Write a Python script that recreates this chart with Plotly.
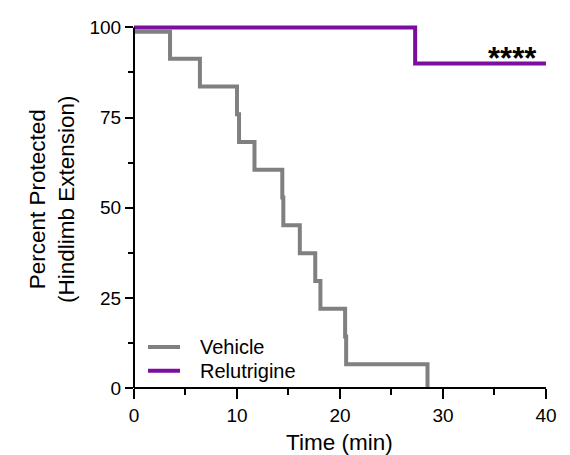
import plotly.graph_objects as go

# Kaplan-Meier style protection curves (time in minutes, percent protected)
vehicle_time = [0, 3.5, 6.4, 10.0, 10.2, 11.7, 14.4, 14.5, 16.1, 17.6, 18.1, 20.5, 20.6, 28.5]
vehicle_pct = [98.8, 91.3, 83.6, 75.9, 68.2, 60.5, 52.8, 45.1, 37.4, 29.7, 22.0, 14.3, 6.6, 0]

relutrigine_time = [0, 27.3, 40]
relutrigine_pct = [100, 90, 90]

x_ticks = [0, 10, 20, 30, 40]
y_ticks = [0, 25, 50, 75, 100]

series_names = ["Vehicle", "Relutrigine"]
series_colors = ["#808080", "#7B0DA0"]
significance = "****"

FONT = "Arial, Liberation Sans, sans-serif"

fig = go.Figure()
fig.add_trace(go.Scatter(x=vehicle_time, y=vehicle_pct, mode="lines",
                         line=dict(shape="hv", color=series_colors[0], width=4),
                         name=series_names[0], showlegend=False))
fig.add_trace(go.Scatter(x=relutrigine_time, y=relutrigine_pct, mode="lines",
                         line=dict(shape="hv", color=series_colors[1], width=4),
                         name=series_names[1], showlegend=False))

# Axis lines spanning exactly the labelled ranges
shapes = [
    dict(type="line", xref="paper", yref="y", x0=0, x1=0, y0=0, y1=100,
         line=dict(color="black", width=2)),
    dict(type="line", xref="x", yref="paper", x0=0, x1=40, y0=0, y1=0,
         line=dict(color="black", width=2)),
]

# Legend drawn inside the plot, bottom-left
legend_y = [11.4, 4.8]
for name, color, ly in zip(series_names, series_colors, legend_y):
    shapes.append(dict(type="line", xref="x", yref="y", x0=1.36, x1=4.47, y0=ly, y1=ly,
                       line=dict(color=color, width=4)))

annotations = []
for name, ly in zip(series_names, legend_y):
    annotations.append(dict(x=6.2, y=ly, xref="x", yref="y", text=name, showarrow=False,
                            xanchor="left", yanchor="middle",
                            font=dict(family=FONT, size=20, color="black")))

annotations.append(dict(x=36.75, y=91.3, xref="x", yref="y", text=f"<b>{significance}</b>",
                        showarrow=False, xanchor="center", yanchor="middle",
                        font=dict(family=FONT, size=31, color="black")))

annotations.append(dict(x=-0.198, y=52.4, xref="paper", yref="y",
                        text="Percent Protected<br>(Hindlimb Extension)",
                        textangle=-90, showarrow=False, xanchor="center", yanchor="middle",
                        font=dict(family=FONT, size=22.5, color="black")))
annotations.append(dict(x=20, y=-0.150, xref="x", yref="paper", text="Time (min)",
                        showarrow=False, xanchor="center", yanchor="middle",
                        font=dict(family=FONT, size=22.5, color="black")))

fig.update_layout(
    width=570, height=455,
    margin=dict(l=134, r=22, t=21.6, b=67),
    paper_bgcolor="white", plot_bgcolor="white",
    shapes=shapes, annotations=annotations,
    showlegend=False,
    xaxis=dict(range=[0, 40.2], tickvals=x_ticks, ticktext=[str(v) for v in x_ticks],
               ticks="outside", ticklen=10, tickwidth=2, tickcolor="black",
               minor=dict(tickvals=[5, 15, 25, 35], ticks="outside", ticklen=6,
                          tickwidth=2, tickcolor="black"),
               showgrid=False, zeroline=False, showline=False,
               tickfont=dict(family=FONT, size=19, color="black")),
    yaxis=dict(range=[0, 101.5], tickvals=y_ticks, ticktext=[str(v) for v in y_ticks],
               ticks="outside", ticklen=8, tickwidth=2, tickcolor="black",
               minor=dict(tickvals=[12.5, 37.5, 62.5, 87.5], ticks="outside", ticklen=5,
                          tickwidth=2, tickcolor="black"),
               showgrid=False, zeroline=False, showline=False,
               tickfont=dict(family=FONT, size=19, color="black")),
)

fig.write_html("out.html")
